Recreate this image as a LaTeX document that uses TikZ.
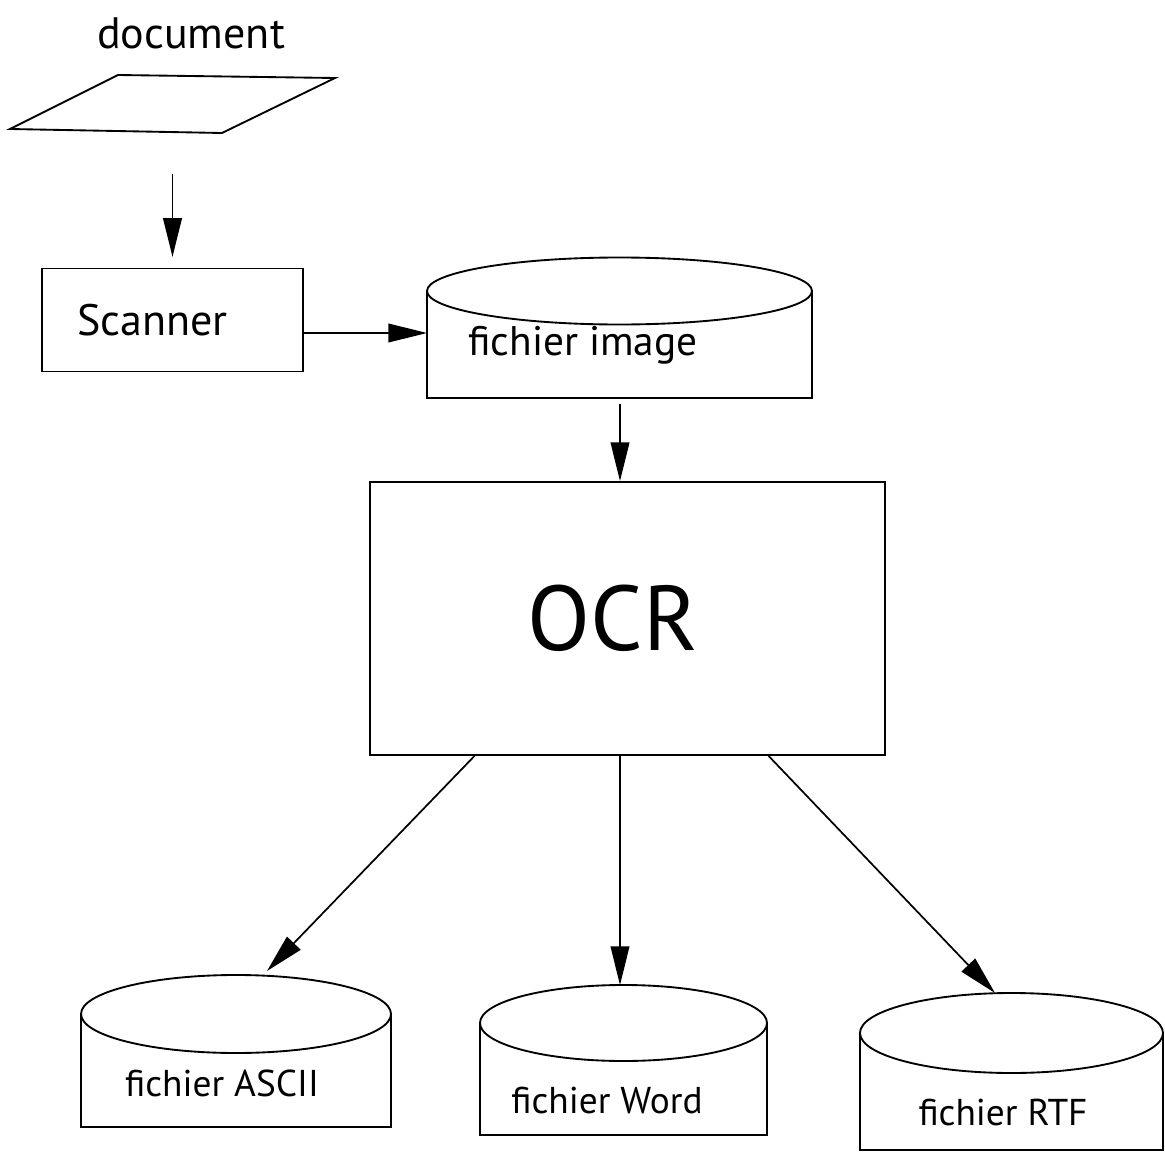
\documentclass[tikz,border=0pt]{standalone}
\usepackage{fontspec}
\setmainfont{PT Sans}
\usetikzlibrary{arrows.meta,calc}

\tikzset{
  box/.style={draw, line width=1.4pt, rectangle},
  lbl/.style={font=\fontsize{28}{34}\selectfont, inner sep=0.75pt},
  flow/.style={-{Triangle[length=29pt,width=14pt]}, line width=1.3pt},
}
% cylinder: centre x, ellipse centre y, x radius, y radius, bottom y
\newcommand{\fichier}[5]{%
  \draw [line width=1.4pt] (#1-#3,#2) -- (#1-#3,#5) -- (#1+#3,#5) -- (#1+#3,#2);
  \draw [line width=1.4pt] (#1,#2) ellipse [x radius=#3, y radius=#4];
}

\begin{document}
\begin{tikzpicture}[x=0.75pt,y=0.75pt,yscale=-1,xscale=1]
\useasboundingbox (0,0) rectangle (1165,1156);
% document
\node (doc) at (191,33) [lbl, font=\fontsize{33}{40}\selectfont] {document};
\draw [line width=1.4pt] (118,75) -- (335,78) -- (222,133) -- (10,129) -- cycle;
\coordinate (docout) at (172.5,174);
% scanner
\node (scan) at (172.5,320) [box, minimum width=195.75pt, minimum height=77.25pt, font=\fontsize{33}{40}\selectfont] {Scanner\hspace*{30pt}};
\draw [flow, shorten >=8pt] (docout) -- (scan);
% fichier image
\fichier{619.5}{291}{192.5}{33.5}{398}
\node (img) at (583,345) [lbl, font=\fontsize{31}{38}\selectfont] {fichier image};
\coordinate (imgin) at (427,333);
\draw [flow] (scan.east |- imgin) -- (imgin);
% OCR
\coordinate (imgout) at (620,404);
\node (ocr) at (627.5,618.5) [box, minimum width=386.25pt, minimum height=204.75pt, font=\fontsize{69}{76}\selectfont] {OCR\hspace*{22pt}};
\draw [flow] (imgout) -- (imgout |- ocr.north);
% output files
\fichier{236}{1014}{155}{39}{1127}
\node (ascii) at (222,1083) [lbl] {fichier ASCII};
\coordinate (asciiin) at (267,971);
\draw [flow] ($(ocr.south west)!0.204!(ocr.south east)$) -- (asciiin);
\fichier{623.5}{1023}{143.5}{38}{1135}
\node (word) at (607,1101) [lbl] {fichier Word};
\coordinate (wordin) at (620,985);
\draw [flow] (ocr.south -| wordin) -- (wordin);
\fichier{1011.5}{1033}{151.5}{40}{1150}
\node (rtf) at (1003,1113) [lbl] {fichier RTF};
\coordinate (rtfin) at (995,993);
\draw [flow] ($(ocr.south west)!0.773!(ocr.south east)$) -- (rtfin);
\end{tikzpicture}
\end{document}
